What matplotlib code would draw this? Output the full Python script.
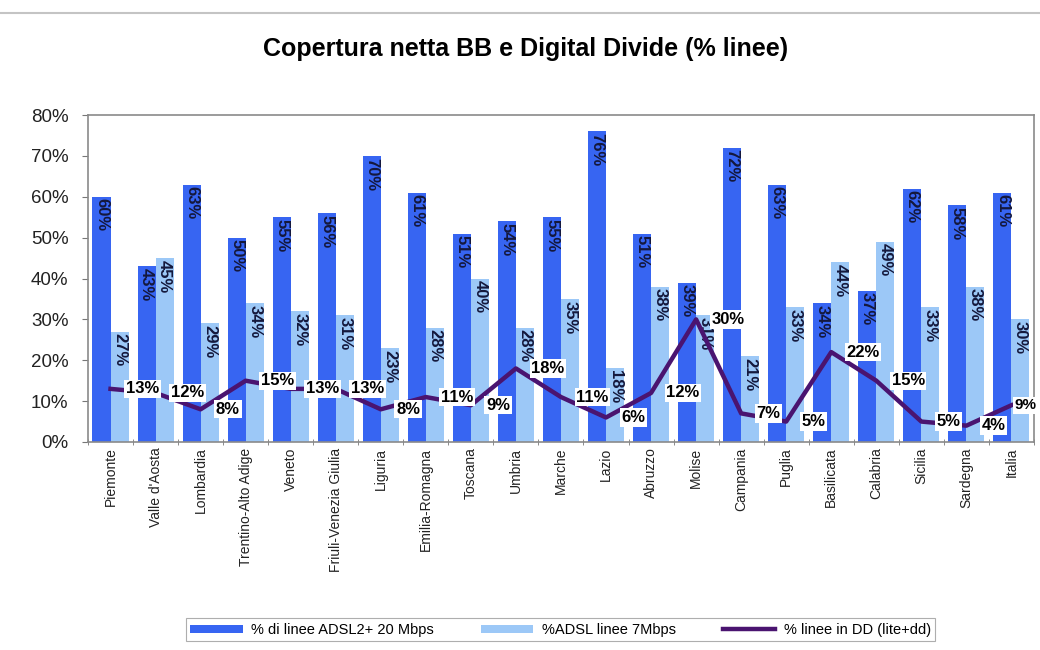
import numpy as np
import matplotlib
matplotlib.use('Agg')
import matplotlib.pyplot as plt
from matplotlib.lines import Line2D

plt.rcParams['font.family'] = ['Liberation Sans', 'DejaVu Sans']

# regioni e valori (% linee)
regioni = ['Piemonte', "Valle d'Aosta", 'Lombardia', 'Trentino-Alto Adige', 'Veneto',
           'Friuli-Venezia Giulia', 'Liguria', 'Emilia-Romagna', 'Toscana', 'Umbria',
           'Marche', 'Lazio', 'Abruzzo', 'Molise', 'Campania', 'Puglia', 'Basilicata',
           'Calabria', 'Sicilia', 'Sardegna', 'Italia']
adsl2_20 = [60, 43, 63, 50, 55, 56, 70, 61, 51, 54, 55, 76, 51, 39, 72, 63, 34, 37, 62, 58, 61]
adsl_7 = [27, 45, 29, 34, 32, 31, 23, 28, 40, 28, 35, 18, 38, 31, 21, 33, 44, 49, 33, 38, 30]
linee_dd = [13, 12, 8, 15, 13, 13, 8, 11, 9, 18, 11, 6, 12, 30, 7, 5, 22, 15, 5, 4, 9]

col_scuro = '#3765f2'
col_chiaro = '#9cc8f7'
col_linea = '#4a1470'
col_testo_barre = '#14183c'

fig = plt.figure(figsize=(10.4, 6.5), dpi=100)
ax = fig.add_axes([0.0846, 0.32, 0.9096, 0.503])

x = np.arange(len(regioni))
w = 0.4
b1 = ax.bar(x - w / 2, adsl2_20, w, color=col_scuro, zorder=2)
b2 = ax.bar(x + w / 2, adsl_7, w, color=col_chiaro, zorder=2)

# etichette verticali dentro le barre
for xi, v in zip(x, adsl2_20):
    ax.text(xi - w / 2, v - 0.4, f'{v}%', rotation=270, ha='center', va='top',
            fontsize=12, fontweight='bold', color=col_testo_barre, zorder=3)
for xi, v in zip(x, adsl_7):
    ax.text(xi + w / 2, v - 0.4, f'{v}%', rotation=270, ha='center', va='top',
            fontsize=12, fontweight='bold', color=col_testo_barre, zorder=3)

ln, = ax.plot(x, linee_dd, color=col_linea, lw=3.2, zorder=4)
for i, (xi, v) in enumerate(zip(x, linee_dd)):
    ultimo = i == len(x) - 1
    # l'ultima etichetta va stretta contro il bordo destro
    dx = 2 if ultimo else 11
    fs = 11 if ultimo else 12
    ax.annotate(f'{v}%', (xi, v), xytext=(dx, 0), textcoords='offset points',
                ha='left', va='center', fontsize=fs, fontweight='bold', color='black',
                bbox=dict(boxstyle='square,pad=0.1', fc='white', ec='none'),
                zorder=5, annotation_clip=False)

ax.set_xlim(-0.5, len(regioni) - 0.5)
ax.set_ylim(0, 80)
ax.set_yticks(range(0, 81, 10))
ax.set_yticklabels([f'{t}%' for t in range(0, 81, 10)], fontsize=13.5, color='#222222')
ax.set_xticks(x)
ax.set_xticklabels(regioni, rotation=90, fontsize=10, color='#222222')
ax.set_xticks(np.arange(-0.5, len(regioni), 1), minor=True)
ax.tick_params(axis='x', which='major', length=0, pad=4)
ax.tick_params(axis='x', which='minor', length=4, color='#777777', direction='inout')
ax.tick_params(axis='y', length=4, color='#777777', pad=10)
for s in ax.spines.values():
    s.set_color('#8a8a8a')
    s.set_linewidth(1.2)

fig.text(0.505, 0.925, 'Copertura netta BB e Digital Divide (% linee)', ha='center', va='center',
         fontsize=18, fontweight='bold')

# linea grigia in alto
fig.add_artist(Line2D([0, 1], [0.98, 0.98], color='#c4c4c4', lw=1.5, transform=fig.transFigure))

leg = fig.legend([b1, b2, ln],
                 ['% di linee ADSL2+ 20 Mbps', '%ADSL linee 7Mbps', '% linee in DD (lite+dd)'],
                 loc='center', bbox_to_anchor=(0.539, 0.031), ncol=3, fontsize=10.5,
                 frameon=True, fancybox=False, edgecolor='#9a9a9a', handlelength=3.6,
                 handleheight=0.5, columnspacing=3.2, handletextpad=0.6, borderpad=0.3)
leg.get_frame().set_linewidth(0.8)

fig.savefig('out.png', dpi=100, facecolor='white')
